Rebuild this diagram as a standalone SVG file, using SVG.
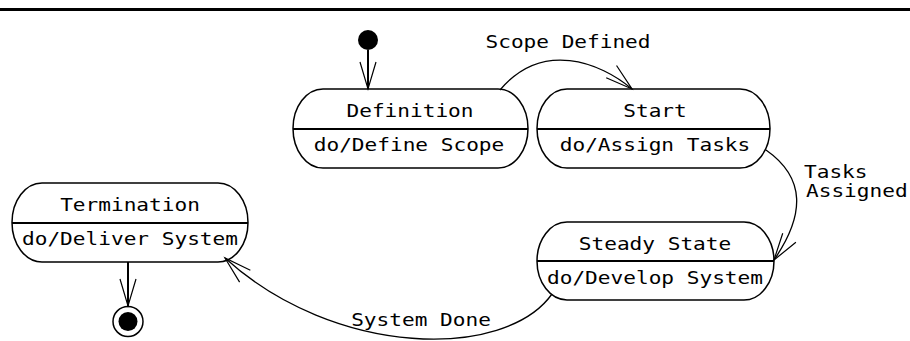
<svg xmlns="http://www.w3.org/2000/svg" width="910" height="341" viewBox="0 0 910 341">
  <style>
    text { font-family: "DejaVu Sans Mono", "Liberation Mono", monospace; font-size: 17px; fill: #000; }
    .mid { text-anchor: middle; }
    .state { fill: #fff; stroke: #000; stroke-width: 1.5; }
    .div { stroke: #000; stroke-width: 2; }
    .conn { fill: none; stroke: #000; stroke-width: 1.3; }
    .stem { fill: none; stroke: #000; stroke-width: 2; }
  </style>
  <defs>
    <marker id="arr" markerUnits="userSpaceOnUse" viewBox="-30 -15 40 30" markerWidth="40" markerHeight="30" refX="0" refY="0" orient="auto" overflow="visible">
      <path d="M-27,-8 L0,0 L-27,8" fill="none" stroke="#000" stroke-width="1.2"/>
    </marker>
  </defs>
  <rect x="0" y="0" width="910" height="341" fill="#fff"/>
  <line x1="0" y1="9.5" x2="910" y2="9.5" stroke="#000" stroke-width="3"/>

  <g id="initial">
    <circle cx="368" cy="40" r="10" fill="#000"/>
  </g>

  <g id="definition">
    <rect class="state" x="293" y="89" width="235" height="79" rx="30" ry="39.5"/>
    <line class="div" x1="293" y1="129" x2="528" y2="129"/>
    <text class="mid" x="410" y="117" textLength="127" lengthAdjust="spacingAndGlyphs">Definition</text>
    <text class="mid" x="409" y="151" textLength="190.5" lengthAdjust="spacingAndGlyphs">do/Define Scope</text>
  </g>

  <g id="start">
    <rect class="state" x="537" y="89" width="233" height="79" rx="30" ry="39.5"/>
    <line class="div" x1="537" y1="129" x2="770" y2="129"/>
    <text class="mid" x="655" y="117" textLength="63.5" lengthAdjust="spacingAndGlyphs">Start</text>
    <text class="mid" x="655" y="151" textLength="190.5" lengthAdjust="spacingAndGlyphs">do/Assign Tasks</text>
  </g>

  <g id="steady">
    <rect class="state" x="537" y="222" width="237" height="78" rx="30" ry="39"/>
    <line class="div" x1="537" y1="261" x2="774" y2="261"/>
    <text class="mid" x="655" y="250" textLength="152.4" lengthAdjust="spacingAndGlyphs">Steady State</text>
    <text class="mid" x="655" y="284" textLength="216" lengthAdjust="spacingAndGlyphs">do/Develop System</text>
  </g>

  <g id="termination">
    <rect class="state" x="12" y="183" width="236" height="79" rx="30" ry="39.5"/>
    <line class="div" x1="12" y1="223" x2="248" y2="223"/>
    <text class="mid" x="130" y="211" textLength="139.7" lengthAdjust="spacingAndGlyphs">Termination</text>
    <text class="mid" x="130" y="245" textLength="216" lengthAdjust="spacingAndGlyphs">do/Deliver System</text>
  </g>

  <g id="final">
    <circle cx="128" cy="321.5" r="15" fill="none" stroke="#000" stroke-width="1.5"/>
    <circle cx="128" cy="321.5" r="9.5" fill="#000"/>
  </g>

  <g id="connectors">
    <line class="stem" x1="368" y1="50" x2="368" y2="89" marker-end="url(#arr)"/>
    <path class="conn" d="M500,90 C542,40 600,62 632,89" marker-end="url(#arr)"/>
    <text class="mid" x="568" y="48" textLength="165" lengthAdjust="spacingAndGlyphs">Scope Defined</text>
    <path class="conn" d="M766,150 C806,178 805,215 774,260" marker-end="url(#arr)"/>
    <text x="804" y="178" textLength="63.5" lengthAdjust="spacingAndGlyphs">Tasks</text>
    <text x="806" y="197" textLength="101.6" lengthAdjust="spacingAndGlyphs">Assigned</text>
    <path class="conn" d="M552,294 C505,360 335,358 225,258" marker-end="url(#arr)"/>
    <text class="mid" x="421" y="326" textLength="139.7" lengthAdjust="spacingAndGlyphs">System Done</text>
    <line class="stem" x1="128" y1="262" x2="128" y2="306" marker-end="url(#arr)"/>
  </g>
</svg>
